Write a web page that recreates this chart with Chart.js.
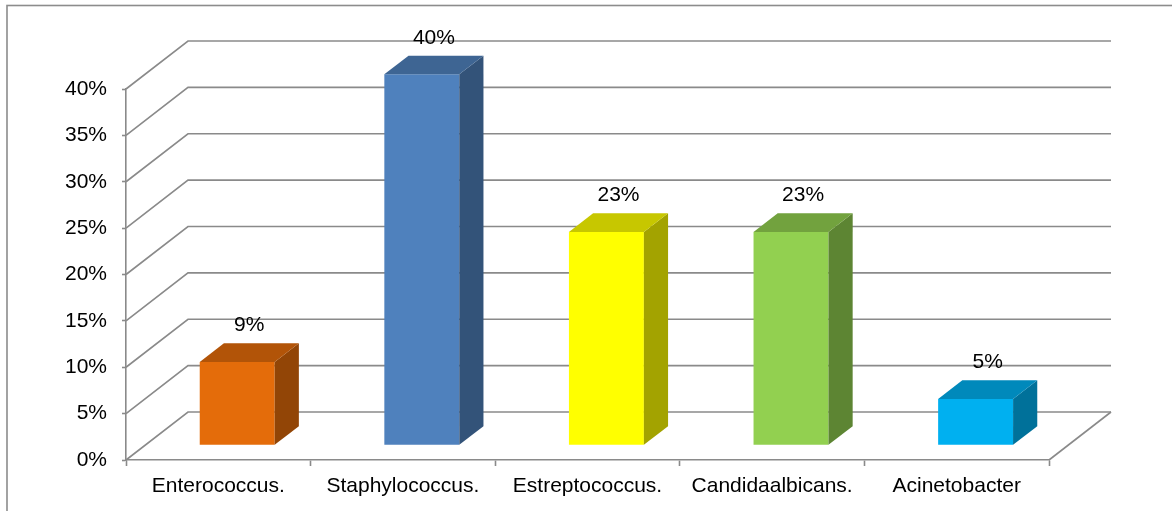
<!DOCTYPE html>
<html lang="en">
<head>
    <meta charset="UTF-8">
    <meta name="viewport" content="width=device-width, initial-scale=1.0">
    <script src="https://cdn.jsdelivr.net/npm/chart.js"></script>
    <style>
        body {
            margin: 0;
            background: #fff;
        }
        .chart-box {
            width: 1172px;
            height: 511px;
            position: relative;
        }
    </style>
</head>
<body>
    <div class="chart-box">
        <canvas id="barChart"></canvas>
    </div>

    <script>
        // data
        const categories = ['Enterococcus.', 'Staphylococcus.', 'Estreptococcus.', 'Candidaalbicans.', 'Acinetobacter'];
        const percentages = [9, 40, 23, 23, 5];
        const barColors = ['#E46C0A', '#4F81BD', '#FFFF00', '#92D050', '#00B0F0'];
        const yTickValues = [0, 5, 10, 15, 20, 25, 30, 35, 40];

        const fontFamily = '"Liberation Sans", Arial, sans-serif';
        const gridColor = '#8a8a8a';
        const depth = { x: 62, y: 48 };   // floor depth of the 3d box
        const barFront = 0.305, barBack = 0.695; // bar position inside the depth

        function shade(hex, f) {
            const n = parseInt(hex.slice(1), 16);
            const r = Math.round(((n >> 16) & 255) * f);
            const g = Math.round(((n >> 8) & 255) * f);
            const b = Math.round((n & 255) * f);
            return 'rgb(' + r + ',' + g + ',' + b + ')';
        }

        // back wall, floor and the 3d sides of the bars
        const box3d = {
            id: 'box3d',
            beforeDraw(chart) {
                const ctx = chart.ctx;
                ctx.save();
                ctx.strokeStyle = '#8c8c8c';
                ctx.lineWidth = 1.6;
                ctx.strokeRect(7, 5.5, 1400, 800);
                ctx.restore();
            },
            beforeDatasetsDraw(chart) {
                const { ctx, chartArea: a, scales: { y } } = chart;
                ctx.save();
                ctx.strokeStyle = gridColor;
                ctx.lineWidth = 1.6;
                y.ticks.forEach(t => {
                    const py = y.getPixelForValue(t.value);
                    ctx.beginPath();
                    ctx.moveTo(a.left, py);
                    ctx.lineTo(a.left + depth.x, py - depth.y);
                    ctx.lineTo(a.right + depth.x, py - depth.y);
                    ctx.stroke();
                });
                ctx.beginPath();
                ctx.moveTo(a.right, a.bottom);
                ctx.lineTo(a.right + depth.x, a.bottom - depth.y);
                ctx.stroke();
                ctx.restore();

                // front faces are drawn by chart.js, pushed into the box
                ctx.save();
                ctx.translate(depth.x * barFront, -depth.y * barFront);
            },
            afterDatasetsDraw(chart) {
                const ctx = chart.ctx;
                ctx.restore();

                const fx = depth.x * barFront, fy = -depth.y * barFront;
                const bx = depth.x * barBack, by = -depth.y * barBack;
                const meta = chart.getDatasetMeta(0);
                meta.data.forEach((bar, i) => {
                    const left = bar.x - bar.width / 2;
                    const right = bar.x + bar.width / 2;
                    const top = bar.y, base = bar.base;
                    const color = barColors[i];

                    // side
                    ctx.fillStyle = shade(color, 0.64);
                    ctx.beginPath();
                    ctx.moveTo(right + fx, top + fy);
                    ctx.lineTo(right + bx, top + by);
                    ctx.lineTo(right + bx, base + by);
                    ctx.lineTo(right + fx, base + fy);
                    ctx.closePath();
                    ctx.fill();

                    // top
                    ctx.fillStyle = shade(color, 0.78);
                    ctx.beginPath();
                    ctx.moveTo(left + fx, top + fy);
                    ctx.lineTo(right + fx, top + fy);
                    ctx.lineTo(right + bx, top + by);
                    ctx.lineTo(left + bx, top + by);
                    ctx.closePath();
                    ctx.fill();

                    // value label
                    ctx.fillStyle = '#000';
                    ctx.font = '21px ' + fontFamily;
                    ctx.textAlign = 'center';
                    ctx.textBaseline = 'middle';
                    ctx.fillText(percentages[i] + '%', bar.x + (fx + bx) / 2, top + (fy + by) / 2 - 27);
                });
            }
        };

        const ctxBar = document.getElementById('barChart').getContext('2d');

        const myChart = new Chart(ctxBar, {
            type: 'bar',
            data: {
                labels: categories,
                datasets: [{
                    data: percentages,
                    backgroundColor: barColors,
                    borderWidth: 0,
                    barPercentage: 0.406,
                    categoryPercentage: 1,
                    clip: false
                }]
            },
            options: {
                responsive: true,
                maintainAspectRatio: false,
                animation: false,
                layout: {
                    padding: { top: 89, right: 123, left: 0, bottom: 0 }
                },
                plugins: {
                    legend: { display: false },
                    tooltip: { enabled: false }
                },
                scales: {
                    x: {
                        grid: {
                            drawOnChartArea: false,
                            tickLength: 6,
                            tickColor: gridColor,
                            tickWidth: 1.6,
                            offset: true
                        },
                        border: { display: true, color: gridColor, width: 1.6 },
                        ticks: {
                            color: '#000',
                            font: { family: fontFamily, size: 21 },
                            padding: 8,
                            maxRotation: 0,
                            autoSkip: false
                        },
                        afterFit: s => { s.height = 51; }
                    },
                    y: {
                        min: 0,
                        max: 40,
                        afterBuildTicks: s => { s.ticks = yTickValues.map(v => ({ value: v })); },
                        grid: {
                            drawOnChartArea: false,
                            tickLength: 4,
                            tickColor: gridColor,
                            tickWidth: 1.6
                        },
                        border: { display: true, color: gridColor, width: 1.6 },
                        ticks: {
                            color: '#000',
                            font: { family: fontFamily, size: 21 },
                            padding: 15,
                            callback: v => v + '%'
                        },
                        afterFit: s => { s.width = 126; }
                    }
                }
            },
            plugins: [box3d]
        });
    </script>
</body>
</html>
